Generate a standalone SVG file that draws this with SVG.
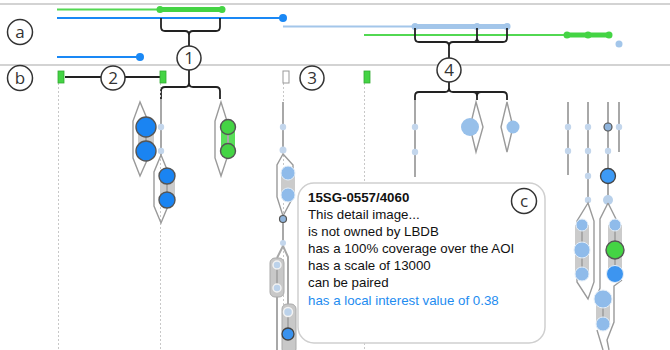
<svg xmlns="http://www.w3.org/2000/svg" width="670" height="350" viewBox="0 0 670 350">
<style>
.sep{stroke:#c4c4c4;stroke-width:1.5;fill:none}
.br{stroke:#222;stroke-width:1.8;fill:none;stroke-linejoin:round}
.lbl circle{fill:#fff;stroke:#333;stroke-width:1.5}
.lbl text{font-family:"Open Sans","DejaVu Sans",sans-serif;font-size:17px;fill:#333;text-anchor:middle}
.dot{stroke:#c8c8c8;stroke-width:1;stroke-dasharray:2 2;fill:none}
.st{stroke:#a8a8a8;stroke-width:2;fill:none}
.lens{stroke:#9a9a9a;stroke-width:1.4;fill:none}
.bg{fill:#cbcbcb}
.sd{fill:#c3d6ec}
.blue{fill:#1a84f2;stroke:#555;stroke-width:1.4}
.lb{fill:#8fbbea;stroke:#e4eef8;stroke-width:1}
.grn{fill:#44d444;stroke:#555;stroke-width:1.4}
.tt{font-family:"Liberation Sans",Arial,sans-serif;font-size:13.3px;fill:#111}
</style>

<!-- frame lines -->
<line class="sep" x1="0" y1="4" x2="670" y2="4"/>
<line class="sep" x1="0" y1="65" x2="670" y2="65"/>

<!-- timeline lines (a) -->
<g id="timelines">
<line x1="57" y1="9.5" x2="160" y2="9.5" stroke="#52d852" stroke-width="2"/>
<line x1="160" y1="9.5" x2="222" y2="9.5" stroke="#44d444" stroke-width="5"/>
<circle cx="160" cy="9.5" r="3.5" fill="#44d444"/><circle cx="222" cy="9.5" r="3.5" fill="#44d444"/>
<line x1="57" y1="18" x2="283" y2="18" stroke="#1a88f5" stroke-width="2"/>
<circle cx="283" cy="18" r="4" fill="#1a88f5"/>
<line x1="283" y1="26.5" x2="415" y2="26.5" stroke="#a3c6ea" stroke-width="2"/>
<line x1="415" y1="26.5" x2="507" y2="26.5" stroke="#a3c6ea" stroke-width="5"/>
<circle cx="415" cy="26.5" r="3.5" fill="#a3c6ea"/><circle cx="477" cy="26.5" r="3.5" fill="#a3c6ea"/><circle cx="507" cy="26.5" r="3.5" fill="#a3c6ea"/>
<line x1="364" y1="35" x2="567" y2="35" stroke="#52d852" stroke-width="2"/>
<line x1="567" y1="35" x2="609" y2="35" stroke="#44d444" stroke-width="5"/>
<circle cx="567" cy="35" r="3.5" fill="#44d444"/><circle cx="588" cy="35" r="3.5" fill="#44d444"/><circle cx="609" cy="35" r="3.5" fill="#44d444"/>
<circle cx="619" cy="44" r="3.5" fill="#a3c6ea"/>
<line x1="57" y1="57" x2="140" y2="57" stroke="#1a88f5" stroke-width="2"/>
<circle cx="140" cy="57" r="4" fill="#1a88f5"/>
</g>

<!-- connectors -->
<g id="connectors">
<path class="br" d="M161,18 V27 Q161,31 165,31 H185 Q189,31 189,35 Q189,31 193,31 H216 Q220,31 220,27 V18 M189,35 V46"/>
<path class="br" d="M189,70 V83 M161,99 V91 Q161,87 165,87 H185 Q189,87 189,83 Q189,87 193,87 H216 Q220,87 220,91 V99"/>
<path class="br" d="M65,77 H101 M125,77 H160"/>
<path class="br" d="M415,28 V38 Q415,42 419,42 H445 Q449,42 449,46 Q449,42 453,42 H503 Q507,42 507,38 V28 M477,28 V38 Q477,42 473,42 M477,38 Q477,42 481,42 M449,46 V58"/>
<path class="br" d="M449,82 V88 M415,100 V96 Q415,92 419,92 H445 Q449,92 449,88 Q449,92 453,92 H503 Q507,92 507,96 V100 M477,100 V96 Q477,92 473,92 M477,96 Q477,92 481,92"/>
<path class="dot" d="M58.5,83 V350 M160.5,83 V350 M283.5,83 V350 M364.5,83 V350"/>
</g>

<!-- markers (b) -->
<g id="markers">
<rect x="58" y="71" width="6" height="12" fill="#44d444" stroke="#3a3" stroke-width="0.8"/>
<rect x="160" y="71" width="6" height="12" fill="#44d444" stroke="#3a3" stroke-width="0.8"/>
<rect x="283" y="71" width="6" height="12" fill="#fff" stroke="#999" stroke-width="1"/>
<rect x="364" y="71" width="6" height="12" fill="#44d444" stroke="#3a3" stroke-width="0.8"/>
</g>

<!-- left glyph -->
<g id="glyph-1">
<line class="st" x1="161" y1="99" x2="161" y2="155"/>
<circle class="sd" cx="161" cy="127" r="3.2"/><circle class="sd" cx="161" cy="151" r="3.2"/>
<polygon class="lens" points="140,102 133,121 133,158 140,176 148,158 148,121"/>
<rect class="bg" x="138" y="127" width="16" height="24"/>
<line class="st" x1="146" y1="127" x2="146" y2="151"/>
<circle class="blue" cx="146" cy="127" r="10"/><circle class="blue" cx="146" cy="151" r="10"/>
<polygon class="lens" points="161,155 154,172 154,206 161,223 168,206 168,172"/>
<rect class="bg" x="160" y="176" width="15" height="24"/>
<line class="st" x1="167" y1="176" x2="167" y2="200"/>
<circle class="blue" cx="167" cy="176" r="8"/><circle class="blue" cx="167" cy="200" r="8"/>
</g>

<g id="glyph-green">
<polygon class="lens" points="221,102 215,121 215,158 221,176 227,158 227,121"/>
<rect x="221" y="127" width="14" height="24" fill="#5ade5a"/>
<line class="st" x1="228" y1="127" x2="228" y2="151"/>
<circle class="grn" cx="228" cy="127" r="7.5"/><circle class="grn" cx="228" cy="151" r="7.5"/>
</g>

<g id="glyph-3">
<line class="st" x1="283" y1="102" x2="283" y2="152"/>
<circle class="sd" cx="283" cy="127" r="3.2"/><circle class="sd" cx="283" cy="150" r="3.5"/>
<polygon class="lens" points="283,154 277,165 277,197 283,216 293,197 293,165"/>
<rect class="bg" x="281" y="173" width="14" height="22"/>
<circle class="lb" cx="288" cy="173" r="7"/><circle class="lb" cx="288" cy="195" r="7"/>
<line class="st" x1="283" y1="222" x2="283" y2="241"/>
<circle cx="283" cy="219" r="3.5" fill="#8fb4dc" stroke="#555" stroke-width="1.2"/>
<circle class="sd" cx="283" cy="243" r="3"/>
<path class="st" d="M283,246 L277,258 M283,246 L288,257 V305 M277,297 V350" stroke-width="1.6"/>
<rect x="270" y="258" width="14" height="39" rx="5" fill="#c8c8c8" stroke="#aaa" stroke-width="1"/>
<line class="st" x1="277" y1="265" x2="277" y2="288"/>
<circle cx="277" cy="265" r="4" fill="#bcd2ea" stroke="#f2f2f2" stroke-width="1.5"/>
<circle cx="277" cy="288" r="4" fill="#bcd2ea" stroke="#f2f2f2" stroke-width="1.5"/>
<rect x="282" y="304" width="14" height="50" rx="5" fill="#c8c8c8" stroke="#aaa" stroke-width="1"/>
<line class="st" x1="288" y1="312" x2="288" y2="334"/>
<circle cx="288" cy="312" r="4.5" fill="#bcd2ea" stroke="#f2f2f2" stroke-width="1.5"/>
<circle cx="288" cy="334" r="6" fill="#3a92ee" stroke="#444" stroke-width="1.3"/>
</g>

<g id="glyph-4">
<line class="st" x1="415" y1="100" x2="415" y2="177"/>
<circle class="sd" cx="415" cy="127" r="3.2"/><circle class="sd" cx="415" cy="152" r="3.2"/>
<polygon class="lens" points="476,102 483,127 476,152 470,127"/>
<circle cx="470" cy="127" r="9" fill="#97c0ea"/>
<polygon class="lens" points="507,102 513,127 507,152 501,127"/>
<circle cx="513" cy="127" r="6.5" fill="#97c0ea"/>
</g>

<g id="glyph-right">
<line class="st" x1="568" y1="102" x2="568" y2="175"/>
<line class="st" x1="588" y1="102" x2="588" y2="203"/>
<line class="st" x1="608" y1="102" x2="608" y2="203"/>
<line class="st" x1="619" y1="102" x2="619" y2="152"/>
<circle class="sd" cx="568" cy="127" r="3.2"/><circle class="sd" cx="568" cy="151" r="3.2"/>
<circle class="sd" cx="588" cy="127" r="3.2"/><circle class="sd" cx="588" cy="151" r="3.2"/>
<circle class="sd" cx="588" cy="176" r="3.2"/><circle class="sd" cx="588" cy="200" r="3.2"/>
<circle class="sd" cx="619" cy="127" r="3.2"/>
<circle cx="608" cy="127" r="4" fill="#8fb4dc" stroke="#555" stroke-width="1.2"/>
<circle class="sd" cx="608" cy="151" r="3.2"/>
<circle cx="608" cy="176" r="7.5" fill="#3d9af5" stroke="#444" stroke-width="1.3"/>
<circle cx="608" cy="200" r="5" fill="#b8d0ea"/>
<polygon class="lens" points="588,203 577,221 577,282 588,299 594,282 594,221"/>
<rect class="bg" x="575" y="225" width="14" height="49"/>
<line class="st" x1="582" y1="225" x2="582" y2="274"/>
<circle class="lb" cx="582" cy="225" r="6" fill="#a8c8ec"/>
<circle class="lb" cx="582" cy="250" r="8" fill="#70a9e8"/>
<circle class="lb" cx="582" cy="274" r="7" fill="#7ab0e8"/>
<path class="lens" d="M608,203 L600,219 V288 L597,296 M608,203 L616,219 M622,280 L614,286 V322 L607,340 L609,350 M597,330 L603,350"/>
<rect class="bg" x="608" y="225" width="14" height="49"/>
<line class="st" x1="615" y1="225" x2="615" y2="274"/>
<circle class="lb" cx="615" cy="225" r="6" fill="#9cc2ec"/>
<circle cx="615" cy="250" r="9" fill="#44d444" stroke="#555" stroke-width="1.4"/>
<circle cx="615" cy="274" r="8.5" fill="#3d95f0" stroke="#e4eef8" stroke-width="1"/>
<rect class="bg" x="596" y="299" width="14" height="25"/>
<line class="st" x1="603" y1="299" x2="603" y2="324"/>
<circle class="lb" cx="603" cy="299" r="9" fill="#7ab0e8"/>
<circle class="lb" cx="603" cy="324" r="7" fill="#8ab8ea"/>
</g>

<!-- tooltip -->
<g id="tooltip">
<rect x="298" y="183" width="247" height="160" rx="16" fill="#fff" stroke="#cfcfcf" stroke-width="1.5"/>
<text class="tt" x="308" y="202" font-weight="bold">15SG-0557/4060</text>
<text class="tt" x="308" y="219">This detail image...</text>
<text class="tt" x="308" y="236">is not owned by LBDB</text>
<text class="tt" x="308" y="253">has a 100% coverage over the AOI</text>
<text class="tt" x="308" y="270">has a scale of 13000</text>
<text class="tt" x="308" y="287">can be paired</text>
<text class="tt" x="308" y="305" style="fill:#1e8cf0">has a local interest value of 0.38</text>
</g>

<!-- labels -->
<g id="label-a" class="lbl"><circle cx="20" cy="32" r="12.5"/><text x="20" y="38">a</text></g>
<g id="label-b" class="lbl"><circle cx="20" cy="78" r="12.5"/><text x="20" y="84">b</text></g>
<g id="label-1" class="lbl"><circle cx="189" cy="58" r="12"/><text x="189" y="64">1</text></g>
<g id="label-2" class="lbl"><circle cx="113" cy="78" r="12"/><text x="113" y="84">2</text></g>
<g id="label-3" class="lbl"><circle cx="312" cy="78" r="12"/><text x="312" y="84">3</text></g>
<g id="label-4" class="lbl"><circle cx="449" cy="70" r="12"/><text x="449" y="76">4</text></g>
<g id="label-c" class="lbl"><circle cx="524" cy="201" r="12.5"/><text x="524" y="207">c</text></g>
</svg>
